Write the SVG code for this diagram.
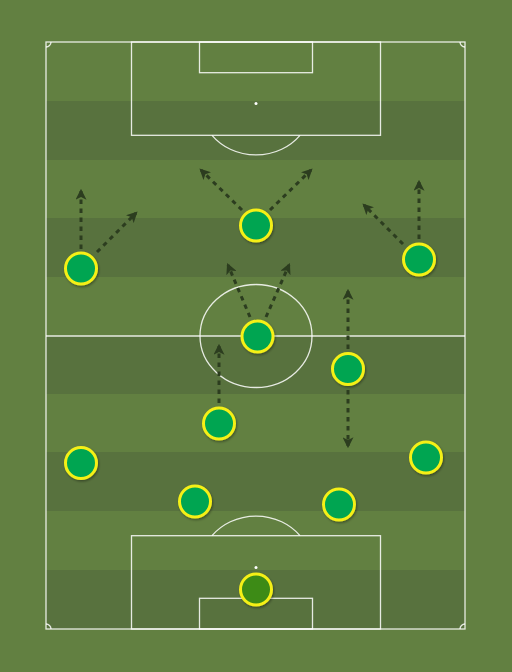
<svg xmlns="http://www.w3.org/2000/svg" width="512" height="672" viewBox="0 0 512 672">
<defs>
<style>
.line{fill:none;stroke:#ffffff;stroke-width:1.3;stroke-opacity:0.85}
.dark{fill:#58723e}
.run{fill:none;stroke:#2c3d1f;stroke-width:3;stroke-dasharray:4.5 4.5;marker-end:url(#ah)}
.pl{fill:#00a551;stroke:#f5f019;stroke-width:3;filter:url(#sh)}
.gk{fill:#3d8b16;stroke:#f5f019;stroke-width:3;filter:url(#sh)}
</style>
<marker id="ah" viewBox="0 0 10 10" refX="8" refY="5" markerWidth="11" markerHeight="11" markerUnits="userSpaceOnUse" orient="auto">
<path d="M0,0 L10,5 L0,10 L2.5,5 Z" fill="#2c3d1f"/>
</marker>
<filter id="sh" x="-30%" y="-30%" width="160%" height="160%">
<feDropShadow dx="1" dy="1.5" stdDeviation="1.2" flood-color="#000" flood-opacity="0.35"/>
</filter>
</defs>
<g id="pitch">
<rect x="0" y="0" width="512" height="672" fill="#628041"/>
<rect class="dark" x="46" y="101" width="419" height="59"/>
<rect class="dark" x="46" y="218" width="419" height="59"/>
<rect class="dark" x="46" y="336" width="419" height="58"/>
<rect class="dark" x="46" y="452" width="419" height="59"/>
<rect class="dark" x="46" y="570" width="419" height="59"/>
<rect class="line" x="46" y="42" width="419" height="587"/>
<line class="line" x1="46" y1="336" x2="465" y2="336"/>
<ellipse class="line" cx="256" cy="336" rx="56" ry="51.5"/>
<rect class="line" x="131.5" y="42" width="249" height="93.3"/>
<rect class="line" x="199.5" y="42" width="113" height="30.7"/>
<circle cx="256" cy="103.5" r="1.5" fill="#fff"/>
<path class="line" d="M212,135.3 A56,51.5 0 0 0 300,135.3"/>
<rect class="line" x="131.5" y="535.7" width="249" height="93.3"/>
<rect class="line" x="199.5" y="598.3" width="113" height="30.7"/>
<circle cx="256" cy="567.5" r="1.5" fill="#fff"/>
<path class="line" d="M212,535.7 A56,51.5 0 0 1 300,535.7"/>
<path class="line" d="M51,42 A5,5 0 0 1 46,47"/>
<path class="line" d="M460,42 A5,5 0 0 0 465,47"/>
<path class="line" d="M46,624 A5,5 0 0 1 51,629"/>
<path class="line" d="M465,624 A5,5 0 0 0 460,629"/>
</g>
<g id="connectors">
<line class="run" x1="81" y1="249" x2="81" y2="191"/>
<line class="run" x1="97" y1="252" x2="136" y2="213"/>
<line class="run" x1="242" y1="210" x2="201" y2="170"/>
<line class="run" x1="270" y1="210" x2="311" y2="170"/>
<line class="run" x1="419" y1="239" x2="419" y2="182"/>
<line class="run" x1="403" y1="244" x2="364" y2="205"/>
<line class="run" x1="250" y1="317" x2="228" y2="265"/>
<line class="run" x1="266" y1="317" x2="289" y2="265"/>
<line class="run" x1="219" y1="403" x2="219" y2="346"/>
<line class="run" x1="348" y1="349" x2="348" y2="291"/>
<line class="run" x1="348" y1="390" x2="348" y2="446"/>
</g>
<g id="p1"><circle class="gk" cx="256" cy="589.5" r="15.5"/></g>
<g id="p2"><circle class="pl" cx="195" cy="501.5" r="15.5"/></g>
<g id="p3"><circle class="pl" cx="339" cy="504.5" r="15.5"/></g>
<g id="p4"><circle class="pl" cx="81" cy="463" r="15.5"/></g>
<g id="p5"><circle class="pl" cx="426" cy="457.5" r="15.5"/></g>
<g id="p6"><circle class="pl" cx="219" cy="423.5" r="15.5"/></g>
<g id="p7"><circle class="pl" cx="348" cy="369" r="15.5"/></g>
<g id="p8"><circle class="pl" cx="257.5" cy="336.5" r="15.5"/></g>
<g id="p9"><circle class="pl" cx="81" cy="268.5" r="15.5"/></g>
<g id="p10"><circle class="pl" cx="256" cy="225.5" r="15.5"/></g>
<g id="p11"><circle class="pl" cx="419" cy="259.5" r="15.5"/></g>
</svg>
